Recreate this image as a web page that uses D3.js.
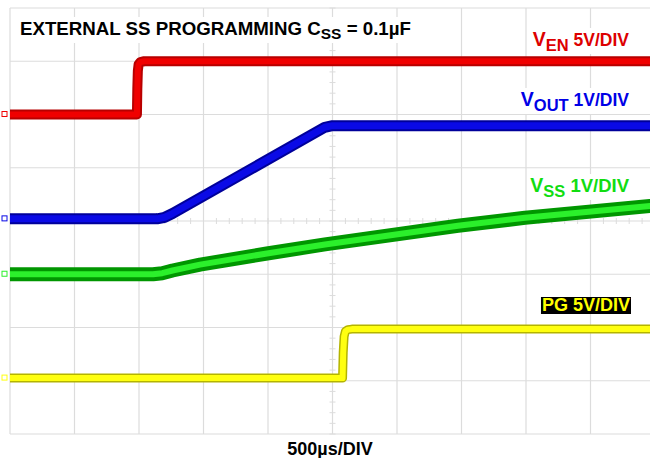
<!DOCTYPE html>
<html>
<head>
<meta charset="utf-8">
<script src="https://cdn.jsdelivr.net/npm/d3@7"></script>
<style>
  html, body { margin: 0; padding: 0; background: #fff; }
  svg { display: block; font-family: "Liberation Sans", Arial, sans-serif; font-weight: bold; }
</style>
</head>
<body>
<div id="chart"></div>
<script>
// scope capture: time in µs, volts per channel
const usPerDiv = 500;
const timeDivs = 10;
const vertDivs = 8;

// EN (5V/div)
const enTime = [0, 984, 987, 991, 997, 1010, 1040, 5000];
const enVolt = [0, 0, 2.4, 4.1, 4.7, 4.92, 5, 5];

// VOUT (1V/div)
const voutTime = [0, 1140, 1200, 1260, 2440, 2500, 5000];
const voutVolt = [0, 0, 0.03, 0.1, 1.72, 1.75, 1.75];

// VSS (1V/div)
const vssTime = [0, 1109, 1180, 1260, 1473, 1992, 2442, 3473, 3992, 4961, 5000];
const vssVolt = [0, 0, 0.02, 0.07, 0.18, 0.39, 0.56, 0.91, 1.06, 1.28, 1.29];

// PG (5V/div)
const pgTime = [0, 2578, 2583, 2590, 2600, 2620, 2650, 5000];
const pgVolt = [0, 0, 2.4, 3.9, 4.4, 4.55, 4.6, 4.6];

const width = 650, height = 458;
const plot = { left: 10, top: 8, right: 655, bottom: 434 };

const svg = d3.select("#chart").append("svg")
  .attr("width", width)
  .attr("height", height);

const x = d3.scaleLinear().domain([0, usPerDiv * timeDivs]).range([plot.left, plot.right]);
const yDiv = d3.scaleLinear().domain([0, vertDivs]).range([plot.bottom, plot.top]);

const gridColor = "#dcdcdc";

// graticule
const grid = svg.append("g");
d3.range(0, timeDivs + 1).forEach(i => {
  grid.append("line")
    .attr("x1", x(i * usPerDiv)).attr("x2", x(i * usPerDiv))
    .attr("y1", plot.top).attr("y2", plot.bottom)
    .attr("stroke", gridColor).attr("stroke-width", 1.2);
});
d3.range(0, vertDivs + 1).forEach(i => {
  grid.append("line")
    .attr("x1", plot.left).attr("x2", plot.right)
    .attr("y1", yDiv(i)).attr("y2", yDiv(i))
    .attr("stroke", gridColor).attr("stroke-width", 1.2);
});
// minor ticks on centre lines
d3.range(0, timeDivs * 5 + 1).forEach(i => {
  const xx = x(i * usPerDiv / 5);
  grid.append("line")
    .attr("x1", xx).attr("x2", xx)
    .attr("y1", yDiv(vertDivs / 2) - 3).attr("y2", yDiv(vertDivs / 2) + 3)
    .attr("stroke", gridColor);
});
d3.range(0, vertDivs * 5 + 1).forEach(i => {
  const yy = yDiv(i / 5);
  grid.append("line")
    .attr("x1", x(usPerDiv * timeDivs / 2) - 3).attr("x2", x(usPerDiv * timeDivs / 2) + 3)
    .attr("y1", yy).attr("y2", yy)
    .attr("stroke", gridColor);
});

svg.append("defs").append("clipPath").attr("id", "clip")
  .append("rect")
  .attr("x", plot.left).attr("y", plot.top - 6)
  .attr("width", plot.right - plot.left).attr("height", plot.bottom - plot.top + 12);

const channels = [
  { t: enTime,   v: enVolt,   vdiv: 5, offset: 6.0,  dark: "#b80000", light: "#f00000", outer: 10, inner: 6 },
  { t: voutTime, v: voutVolt, vdiv: 1, offset: 4.04, dark: "#00009a", light: "#0a0ae6", outer: 11, inner: 7 },
  { t: vssTime,  v: vssVolt,  vdiv: 1, offset: 3.0,  dark: "#009600", light: "#2bf02b", outer: 14, inner: 6 },
  { t: pgTime,   v: pgVolt,   vdiv: 5, offset: 1.05, dark: "#b4b400", light: "#ffff10", outer: 9,  inner: 6 }
];

const traces = svg.append("g").attr("clip-path", "url(#clip)");
channels.forEach(ch => {
  const pts = ch.t.map((t, i) => [t, ch.v[i]]);
  const line = d3.line()
    .x(d => x(d[0]))
    .y(d => yDiv(ch.offset + d[1] / ch.vdiv));
  traces.append("path").datum(pts)
    .attr("d", line).attr("fill", "none")
    .attr("stroke", ch.dark).attr("stroke-width", ch.outer)
    .attr("stroke-linejoin", "round");
  traces.append("path").datum(pts)
    .attr("d", line).attr("fill", "none")
    .attr("stroke", ch.light).attr("stroke-width", ch.inner)
    .attr("stroke-linejoin", "round");
  // ground marker at the left edge
  svg.append("rect")
    .attr("x", 2).attr("y", yDiv(ch.offset) - 3)
    .attr("width", 5).attr("height", 5)
    .attr("fill", "none").attr("stroke", ch.light).attr("stroke-width", 1);
});

// labels with white backing
function backed(textSel, pad, fill) {
  const b = textSel.node().getBBox();
  textSel.node().parentNode.insertBefore(
    svg.append("rect")
      .attr("x", b.x - pad).attr("y", b.y - pad + 2)
      .attr("width", b.width + pad * 2).attr("height", b.height + pad * 2 - 4)
      .attr("fill", fill).node(),
    textSel.node());
}

const title = svg.append("text").attr("x", 20).attr("y", 35).attr("font-size", 18.7).attr("fill", "#000");
title.append("tspan").text("EXTERNAL SS PROGRAMMING C");
title.append("tspan").attr("font-size", 15.5).attr("dy", 4).text("SS");
title.append("tspan").attr("dy", -4).text(" = 0.1µF");
backed(title, 3, "#fff");

function chLabel(sub, rest, y, color, restSize) {
  const t = svg.append("text").attr("x", 629).attr("y", y)
    .attr("text-anchor", "end").attr("fill", color);
  t.append("tspan").attr("font-size", 19.5).text("V");
  t.append("tspan").attr("font-size", 16.5).attr("dy", 5).text(sub);
  t.append("tspan").attr("font-size", restSize).attr("dy", -5).text(" " + rest);
  backed(t, 2, "#fff");
}
chLabel("EN", "5V/DIV", 46, "#dd0000", 17.5);
chLabel("OUT", "1V/DIV", 106, "#0000e6", 17.5);
chLabel("SS", "1V/DIV", 192, "#11dd11", 18.5);

const pg = svg.append("text").attr("x", 630).attr("y", 311)
  .attr("text-anchor", "end").attr("font-size", 18).attr("fill", "#ffff00")
  .text("PG 5V/DIV");
{
  const b = pg.node().getBBox();
  svg.insert("rect", () => pg.node())
    .attr("x", b.x - 1).attr("y", 297)
    .attr("width", b.width + 2).attr("height", 17)
    .attr("fill", "#000");
}

svg.append("text").attr("x", 330).attr("y", 455)
  .attr("text-anchor", "middle").attr("font-size", 18).attr("fill", "#000")
  .text("500µs/DIV");
</script>
</body>
</html>
